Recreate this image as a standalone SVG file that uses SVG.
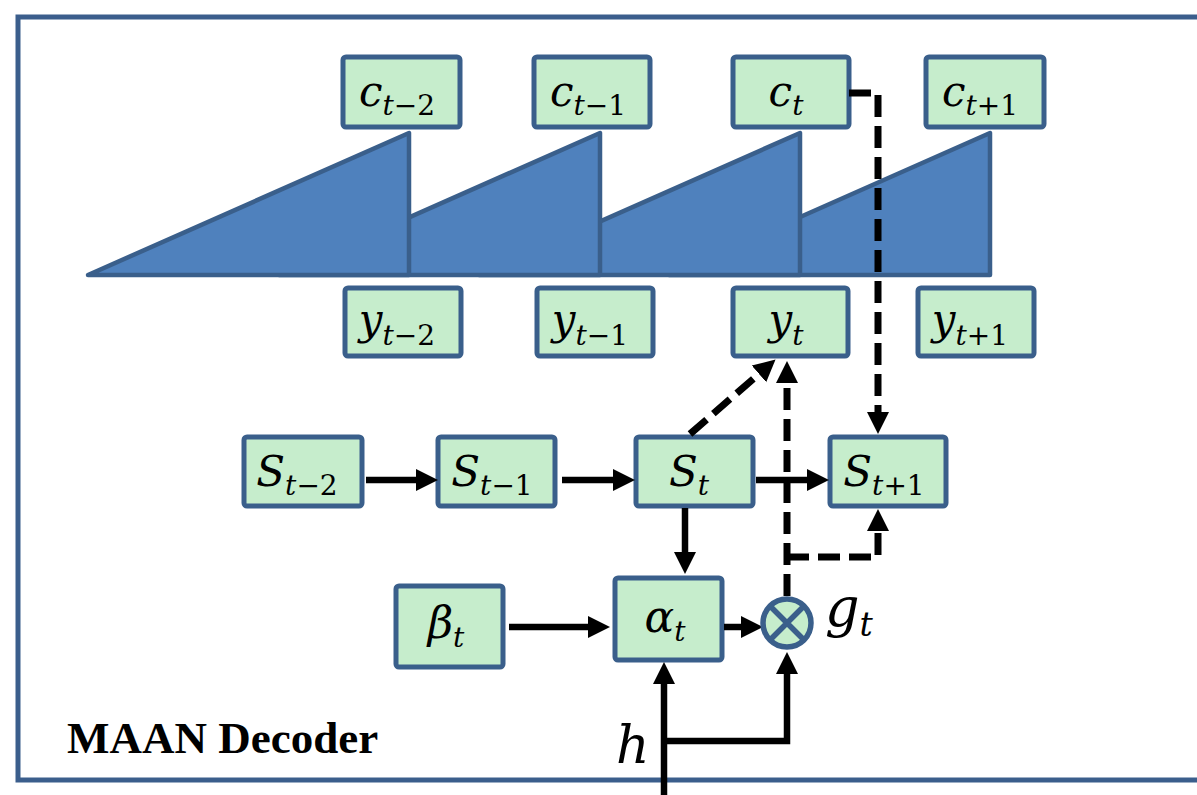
<svg xmlns="http://www.w3.org/2000/svg" width="1197" height="795" viewBox="0 0 1197 795">
<style>
.box{fill:#C6EDCC;stroke:#3A5F8B;stroke-width:5}
.tri{fill:#4F81BD;stroke:#3A5F8B;stroke-width:4.5;stroke-linejoin:round}
.lbl{font-family:"DejaVu Serif","Liberation Serif",serif;font-size:42px;fill:#000}
.v{font-style:italic}
.s{font-size:28px}
.sol{fill:none;stroke:#000;stroke-width:6.5}
.dash{fill:none;stroke:#000;stroke-width:7;stroke-dasharray:22 9}
</style>
<defs>
<marker id="ah" markerUnits="userSpaceOnUse" markerWidth="24" markerHeight="24" viewBox="0 0 24 24" refX="12" refY="12" orient="auto">
<path d="M0,1 L22,12 L0,23 z" fill="#000"/>
</marker>
</defs>
<rect x="18" y="17" width="1205" height="763" fill="none" stroke="#3B5E8C" stroke-width="5"/>
<g id="sequence">
<polygon class="tri" points="669,275 990,133 990,275"/>
<polygon class="tri" points="479,275 800,133 800,275"/>
<polygon class="tri" points="279,275 600,133 600,275"/>
<polygon class="tri" points="88,275 409,133 409,275"/>
</g>
<g id="c_tm2"><rect class="box" x="343" y="57" width="117" height="70" rx="3"/><text class="lbl" x="397" y="106" text-anchor="middle"><tspan class="v">c</tspan><tspan class="s v" dy="9">t</tspan><tspan class="s">−2</tspan></text></g>
<g id="c_tm1"><rect class="box" x="534" y="57" width="116" height="70" rx="3"/><text class="lbl" x="588" y="106" text-anchor="middle"><tspan class="v">c</tspan><tspan class="s v" dy="9">t</tspan><tspan class="s">−1</tspan></text></g>
<g id="c_t"><rect class="box" x="733" y="57" width="116" height="70" rx="3"/><text class="lbl" x="786" y="106" text-anchor="middle"><tspan class="v">c</tspan><tspan class="s v" dy="9">t</tspan></text></g>
<g id="c_tp1"><rect class="box" x="926" y="57" width="118" height="70" rx="3"/><text class="lbl" x="980" y="106" text-anchor="middle"><tspan class="v">c</tspan><tspan class="s v" dy="9">t</tspan><tspan class="s">+1</tspan></text></g>
<g id="y_tm2"><rect class="box" x="345" y="288" width="116" height="68" rx="3"/><text class="lbl" x="397" y="334" text-anchor="middle"><tspan class="v">y</tspan><tspan class="s v" dy="11">t</tspan><tspan class="s">−2</tspan></text></g>
<g id="y_tm1"><rect class="box" x="537" y="288" width="116" height="68" rx="3"/><text class="lbl" x="590" y="334" text-anchor="middle"><tspan class="v">y</tspan><tspan class="s v" dy="11">t</tspan><tspan class="s">−1</tspan></text></g>
<g id="y_t"><rect class="box" x="733" y="288" width="115" height="68" rx="3"/><text class="lbl" x="786" y="334" text-anchor="middle"><tspan class="v">y</tspan><tspan class="s v" dy="11">t</tspan></text></g>
<g id="y_tp1"><rect class="box" x="918" y="288" width="116" height="68" rx="3"/><text class="lbl" x="970" y="334" text-anchor="middle"><tspan class="v">y</tspan><tspan class="s v" dy="11">t</tspan><tspan class="s">+1</tspan></text></g>
<g id="S_tm2"><rect class="box" x="244" y="437" width="118" height="69" rx="3"/><text class="lbl" x="297" y="486" text-anchor="middle"><tspan class="v">S</tspan><tspan class="s v" dy="9">t</tspan><tspan class="s">−2</tspan></text></g>
<g id="S_tm1"><rect class="box" x="438" y="437" width="117" height="69" rx="3"/><text class="lbl" x="492" y="486" text-anchor="middle"><tspan class="v">S</tspan><tspan class="s v" dy="9">t</tspan><tspan class="s">−1</tspan></text></g>
<g id="S_t"><rect class="box" x="636" y="437" width="117" height="69" rx="3"/><text class="lbl" x="689" y="486" text-anchor="middle"><tspan class="v">S</tspan><tspan class="s v" dy="9">t</tspan></text></g>
<g id="S_tp1"><rect class="box" x="830" y="437" width="116" height="69" rx="3"/><text class="lbl" x="884" y="486" text-anchor="middle"><tspan class="v">S</tspan><tspan class="s v" dy="9">t</tspan><tspan class="s">+1</tspan></text></g>
<g id="beta"><rect class="box" x="396" y="586" width="107" height="81" rx="3"/><text class="lbl" x="446" y="638" text-anchor="middle" style="font-size:44px"><tspan class="v">β</tspan><tspan class="s v" dy="9">t</tspan></text></g>
<g id="alpha"><rect class="box" x="615" y="578" width="107" height="82" rx="3"/><text class="lbl" x="665" y="632" text-anchor="middle" style="font-size:44px"><tspan class="v">α</tspan><tspan class="s v" dy="9">t</tspan></text></g>
<g id="connectors">
<line class="sol" x1="366" y1="480" x2="428" y2="480" marker-end="url(#ah)"/>
<line class="sol" x1="562" y1="480" x2="625" y2="480" marker-end="url(#ah)"/>
<line class="sol" x1="756" y1="480" x2="819" y2="480" marker-end="url(#ah)"/>
<line class="sol" x1="685" y1="508" x2="685" y2="564" marker-end="url(#ah)"/>
<line class="sol" x1="509" y1="627" x2="600" y2="627" marker-end="url(#ah)"/>
<line class="sol" x1="724" y1="627" x2="753" y2="627" marker-end="url(#ah)"/>
<line class="sol" x1="664" y1="800" x2="664" y2="672" marker-end="url(#ah)"/>
<polyline class="sol" points="664,741 787,741 787,662" marker-end="url(#ah)"/>
<polyline class="dash" points="849,93 878,93 878,424" marker-end="url(#ah)"/>
<line class="dash" x1="690" y1="434" x2="768" y2="366" marker-end="url(#ah)"/>
<line class="dash" x1="787" y1="596" x2="787" y2="371" marker-end="url(#ah)"/>
<polyline class="dash" points="787,557 878,557 878,519" marker-end="url(#ah)"/>
</g>
<g id="gate">
<circle cx="787" cy="623" r="24" fill="#C6EDCC" stroke="#3A5F8B" stroke-width="5.5"/>
<path d="M770,606 L804,640 M804,606 L770,640" stroke="#3A5F8B" stroke-width="5.5"/>
</g>
<text class="lbl" x="825" y="626" style="font-size:54px"><tspan class="v">g</tspan><tspan class="v" style="font-size:33px" dy="10">t</tspan></text>
<text class="lbl v" x="616" y="763" style="font-size:52px">h</text>
<text x="67" y="753" font-family="'Liberation Serif','Times New Roman',serif" font-weight="bold" font-size="45">MAAN Decoder</text>
</svg>
